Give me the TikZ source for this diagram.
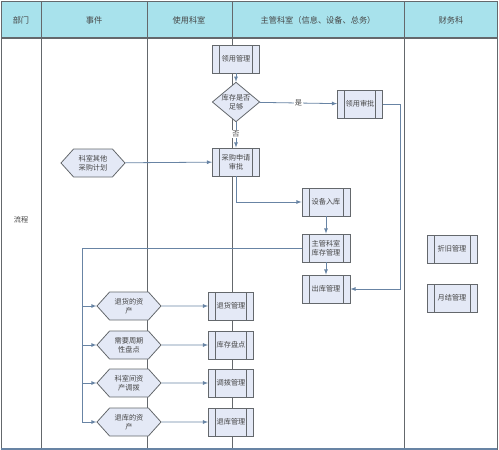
\documentclass[tikz,border=0pt]{standalone}
\usepackage{fontspec}
\setmainfont{Noto Sans CJK SC}
\usepackage{tikz}
\usetikzlibrary{shapes.geometric,shapes.symbols,arrows}
\definecolor{hdcyan}{RGB}{168,226,236}
\definecolor{boxfill}{RGB}{228,233,246}
\definecolor{lnblue}{RGB}{104,132,164}
\definecolor{frameln}{RGB}{100,104,108}
\definecolor{txtgray}{RGB}{70,70,70}

\begin{document}
\begin{tikzpicture}[x=1pt,y=-1pt,
  every node/.style={text=txtgray,font=\fontsize{7.2}{9}\selectfont},
  hdtext/.style={font=\fontsize{8.2}{10}\selectfont},
  proc/.style={draw=frameln,fill=boxfill,line width=0.8pt,minimum width=47pt,minimum height=28pt,
    inner sep=1pt,align=center,
    path picture={\draw[frameln,line width=0.8pt]
      ([xshift=7pt]path picture bounding box.north west) -- ([xshift=7pt]path picture bounding box.south west)
      ([xshift=-7pt]path picture bounding box.north east) -- ([xshift=-7pt]path picture bounding box.south east);}},
  decide/.style={diamond,draw=frameln,fill=boxfill,line width=0.8pt,inner sep=0pt,aspect=1.2,
    minimum width=47pt,minimum height=39pt,align=center},
  event/.style={signal,signal to=east and west,signal pointer angle=96,draw=frameln,fill=boxfill,
    line width=0.8pt,minimum width=64pt,minimum height=28pt,inner sep=1pt,align=center},
  conn/.style={draw=lnblue,line width=0.8pt},
  >=latex]
\useasboundingbox (0,0) rectangle (499,450);
\fill[hdcyan] (1,1) rectangle (497,38);
\draw[frameln,line width=1.1pt] (1,38) -- (497,38);
\draw[frameln,line width=1pt] (1,1) rectangle (497,449);
\foreach \cx in {41,147,232,404}
  \draw[frameln,line width=1pt] (\cx,1) -- (\cx,449);
\draw[lnblue,line width=1.2pt] (1,449) -- (497,449);
\node[hdtext] (hdBm) at (21,20) {部门};
\node[hdtext] (hdSj) at (94,20) {事件};
\node[hdtext] (hdSy) at (189,20) {使用科室};
\node[hdtext] (hdZg) at (318,20) {主管科室（信息、设备、总务）};
\node[hdtext] (hdCw) at (451,20) {财务科};
\node (lc) at (21,220) {流程};
\node[proc] (lygl) at (236,59) {领用管理};
\node[decide] (kcsf) at (236,102) {库存是否\\足够};
\node[proc,minimum width=45pt] (lysp) at (360,104) {领用审批};
\node[event] (ksqt) at (93,163) {科室其他\\采购计划};
\node[proc] (cgsq) at (236,162) {采购申请\\审批};
\node[proc,minimum width=48pt] (sbrk) at (326,202) {设备入库};
\node[proc,minimum width=48pt] (kcgl) at (326,248) {主管科室\\库存管理};
\node[proc,minimum width=48pt] (ckgl) at (326,289) {出库管理};
\node[proc,minimum width=50pt] (zjgl) at (452,249) {折旧管理};
\node[proc,minimum width=50pt] (yjgl) at (452,298) {月结管理};
\node[event] (thzc) at (129,306) {退货的资\\产};
\node[event] (zqpd) at (129,345) {需要周期\\性盘点};
\node[event] (dbzc) at (129,383) {科室间资\\产调拨};
\node[event] (tkzc) at (129,422) {退库的资\\产};
\node[proc,minimum width=45pt] (thgl) at (231,306) {退货管理};
\node[proc,minimum width=45pt] (kcpd) at (231,345) {库存盘点};
\node[proc,minimum width=45pt] (dbgl) at (231,383) {调拨管理};
\node[proc,minimum width=45pt] (tkgl) at (231,422) {退库管理};
\coordinate (fenzhi) at (82,422);
\coordinate (huilu) at (400,104);
\draw[conn,->] (lygl) -- (kcsf);
\draw[conn,->] (kcsf) -- node[fill=white,inner sep=1pt] {是} (lysp);
\draw[conn,->] (kcsf) -- node[pos=0.45,fill=white,inner sep=1pt] {否} (cgsq);
\draw[conn,->] (ksqt) -- (cgsq);
\draw[conn,->] (cgsq.south) |- (sbrk.west);
\draw[conn,->] (sbrk) -- (kcgl);
\draw[conn,->] (kcgl) -- (ckgl);
\draw[conn,->] (lysp.east) -- (huilu) |- (ckgl.east);
\draw[conn] (kcgl.west) -| (fenzhi);
\foreach \ev/\pr in {thzc/thgl,zqpd/kcpd,dbzc/dbgl,tkzc/tkgl}{
  \draw[conn,->] (\ev.west -| fenzhi) -- (\ev.west);
  \draw[conn,->] (\ev) -- (\pr);
}
\end{tikzpicture}
\end{document}
